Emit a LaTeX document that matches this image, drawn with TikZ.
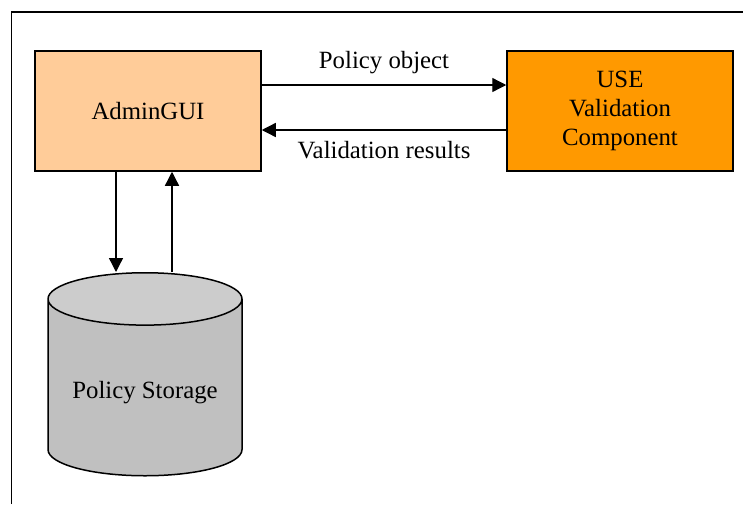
\documentclass[tikz,border=0pt]{standalone}
\usepackage{fontspec}
\setmainfont{Liberation Serif}
\usetikzlibrary{arrows.meta,shapes.geometric}

\definecolor{guifill}{RGB}{255,204,153}
\definecolor{usefill}{RGB}{255,153,0}
\definecolor{storetop}{RGB}{204,204,204}
\definecolor{storebody}{RGB}{192,192,192}

\tikzset{
  box/.style={rectangle,draw=black,line width=0.75pt,minimum width=113pt,minimum height=60pt,align=center,inner sep=2pt},
  flow/.style={-{Triangle[length=7pt,width=7pt]},line width=0.65pt}
}

\begin{document}
\begin{tikzpicture}[x=0.5pt,y=-0.5pt,font=\fontsize{12.4}{14.5}\selectfont]
\useasboundingbox (0,0) rectangle (743,504);
% frame
\draw[line width=0.75pt] (11.5,504) -- (11.5,12) -- (743,12);

\node[box,fill=guifill] (admin) at (148,111) {AdminGUI};
\node[box,fill=usefill] (use) at (620,111) {USE\\Validation\\Component};
\node[cylinder,shape border rotate=90,aspect=0.33,draw=black,line width=0.75pt,
      cylinder uses custom fill,cylinder end fill=storetop,cylinder body fill=storebody,
      minimum width=97pt,minimum height=101.5pt,anchor=north] (store) at (145,272) {Policy Storage};

\coordinate (up1) at (0,85);
\coordinate (up2) at (0,130);
\coordinate (dn) at (116,0);
\coordinate (up) at (172,0);

\draw[flow] (admin.east |- up1) -- node[above=2pt] {Policy object} (use.west |- up1);
\draw[flow] (use.west |- up2) -- node[below=2pt] {Validation results} (admin.east |- up2);
\draw[flow] (admin.south -| dn) -- (dn |- store.north);
\draw[flow] (up |- store.north) -- (admin.south -| up);
\end{tikzpicture}
\end{document}
